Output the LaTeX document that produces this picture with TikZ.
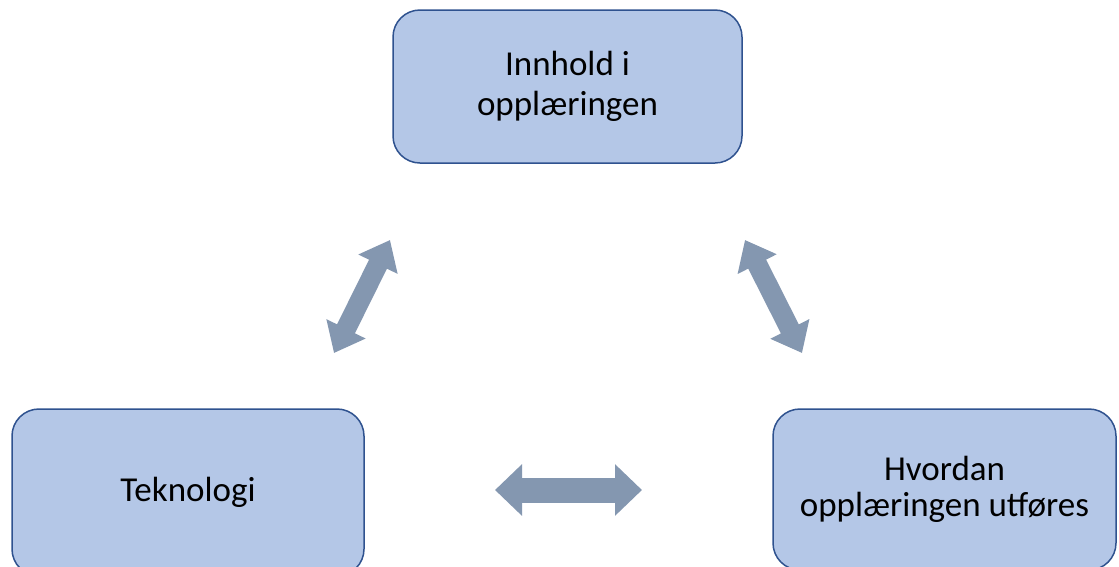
\documentclass[tikz,border=0pt]{standalone}
\usepackage{fontspec}
\setmainfont{Carlito}
\usetikzlibrary{arrows.meta}
\definecolor{boxfill}{HTML}{B4C7E7}
\definecolor{boxline}{HTML}{2F528F}
\definecolor{arrowfill}{HTML}{8497B0}
\begin{document}
\begin{tikzpicture}[x=1pt,y=-1pt,
  box/.style={draw=boxline, line width=1.5pt, fill=boxfill,
    rounded corners=27pt, align=center, inner sep=0pt,
    font=\fontsize{35}{40}\selectfont},
  blockarrow/.style n args={3}{draw=arrowfill, line width=#1,
    {Triangle[length=#3,width=#2,fill=arrowfill]}-{Triangle[length=#3,width=#2,fill=arrowfill]}}
]
\clip (0,0) rectangle (1119,566);
\fill[white] (0,0) rectangle (1119,566);

% the three topics
\node[box, minimum width=349pt, minimum height=153pt] (content) at (567.5,86.5)
  {Innhold i\\opplæringen};
\node[box, minimum width=352pt, minimum height=167pt] (tech) at (188,492.5)
  {Teknologi};
\node[box, minimum width=343pt, minimum height=161pt,
  font=\fontsize{35}{36}\selectfont] (method) at (944.5,489.5)
  {Hvordan\\opplæringen utføres};

% ends of the two-way arrows between the topics
\coordinate (tcA) at (334,353);
\coordinate (tcB) at (390,240);
\coordinate (cmA) at (745,240);
\coordinate (cmB) at (802,353);
\coordinate (tmA) at (495,490);
\coordinate (tmB) at (642,490);

\draw[blockarrow={20pt}{42pt}{27pt}] (tcA) -- (tcB);
\draw[blockarrow={20pt}{42pt}{27pt}] (cmA) -- (cmB);
\draw[blockarrow={25pt}{50pt}{27pt}] (tmA) -- (tmB);
\end{tikzpicture}
\end{document}
